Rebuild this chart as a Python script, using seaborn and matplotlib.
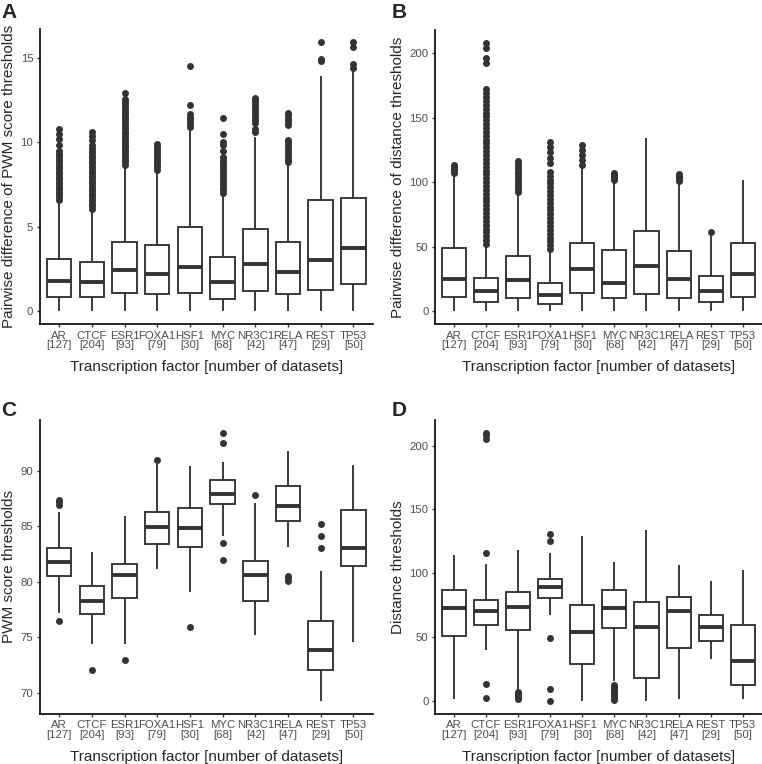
import numpy as np
import pandas as pd
import seaborn as sns
import matplotlib.pyplot as plt

sns.set_theme(style="white")
plt.rcParams['font.family'] = ['Liberation Sans', 'DejaVu Sans']

tfs = ["AR", "CTCF", "ESR1", "FOXA1", "HSF1", "MYC", "NR3C1", "RELA", "REST", "TP53"]
n_datasets = [127, 204, 93, 79, 30, 68, 42, 47, 29, 50]

# box summaries: [whisker low, q1, median, q3, whisker high]
pwm_diff_stats = [
    [0, 0.85, 1.8, 3.1, 6.5],
    [0, 0.8, 1.7, 2.9, 6.0],
    [0, 1.08, 2.4, 4.1, 8.6],
    [0, 1.0, 2.2, 3.9, 8.3],
    [0, 1.08, 2.6, 5.0, 10.8],
    [0, 0.7, 1.7, 3.2, 6.9],
    [0, 1.18, 2.8, 4.85, 10.3],
    [0, 1.0, 2.3, 4.1, 8.7],
    [0, 1.25, 3.0, 6.6, 13.9],
    [0, 1.6, 3.7, 6.7, 14.2],
]
pwm_diff_outliers = [
    [6.6, 6.75, 6.9, 7.05, 7.2, 7.35, 7.5, 7.65, 7.8, 7.95, 8.1, 8.25, 8.4, 8.55, 8.7, 8.85, 9.0, 9.15,
     9.3, 9.45, 9.8, 10.2, 10.5, 10.8],
    [6.05, 6.2, 6.35, 6.5, 6.65, 6.8, 6.95, 7.1, 7.25, 7.4, 7.55, 7.7, 7.85, 8.0, 8.15, 8.3, 8.45, 8.6,
     8.75, 8.9, 9.05, 9.2, 9.35, 9.5, 9.65, 9.8, 10.1, 10.35, 10.6],
    [8.65, 8.8, 8.95, 9.1, 9.25, 9.4, 9.55, 9.7, 9.85, 10.0, 10.15, 10.3, 10.45, 10.6, 10.75, 10.9, 11.05,
     11.2, 11.35, 11.5, 11.65, 11.8, 11.95, 12.1, 12.25, 12.4, 12.55, 12.9],
    [8.35, 8.5, 8.65, 8.8, 8.95, 9.1, 9.25, 9.4, 9.55, 9.7, 9.9],
    [10.9, 11.05, 11.2, 11.35, 11.5, 11.65, 12.2, 14.5],
    [7.0, 7.15, 7.3, 7.45, 7.6, 7.75, 7.9, 8.05, 8.2, 8.35, 8.5, 8.65, 8.8, 8.95, 9.1, 9.5, 9.8, 10.0,
     10.5, 11.4],
    [10.6, 10.8, 11.1, 11.3, 11.45, 11.6, 11.75, 11.9, 12.05, 12.2, 12.35, 12.5, 12.6],
    [8.8, 8.95, 9.1, 9.25, 9.4, 9.55, 9.7, 9.85, 10.0, 10.15, 11.0, 11.15, 11.3, 11.45, 11.6, 11.7],
    [14.8, 14.9, 15.9],
    [14.4, 14.6, 15.6, 15.9],
]

dist_diff_stats = [
    [0, 11, 25, 49, 106],
    [0, 7, 15.5, 25.5, 51],
    [0, 10, 24, 43, 91],
    [0, 5.2, 12.2, 22, 47],
    [0, 13.7, 32.3, 53, 112],
    [0, 9.8, 22, 47, 101],
    [0, 12.9, 35.2, 62.4, 134],
    [0, 9.8, 25.1, 46.3, 100],
    [0, 7, 15.3, 27.2, 59],
    [0, 11.1, 28.5, 53, 101.5],
]
dist_diff_outliers = [
    [107, 108, 109, 110, 111, 112, 113],
    [52, 55, 58, 61, 64, 67, 70, 73, 76, 79, 82, 85, 88, 91, 94, 97, 100, 103, 106, 109, 112, 115, 118,
     121, 124, 127, 130, 133, 136, 139, 142, 145, 148, 151, 154, 157, 160, 163, 166, 169, 172,
     192.5, 196, 204, 208],
    [92, 94, 96, 98, 100, 102, 104, 106, 108, 110, 112, 114, 116],
    [48, 51, 54, 57, 60, 63, 66, 69, 72, 75, 78, 81, 84, 87, 90, 93, 96, 99, 102, 105, 108,
     114.5, 119, 123.5, 127, 131],
    [113, 117, 121, 125, 129],
    [102, 103, 104, 105, 106, 107],
    [],
    [101, 102, 103, 104, 105, 106],
    [61.5],
    [],
]

pwm_stats = [
    [77.2, 80.5, 81.75, 83.0, 86.3],
    [74.4, 77.1, 78.25, 79.6, 82.7],
    [74.4, 78.5, 80.6, 81.6, 85.9],
    [81.15, 83.4, 84.9, 86.3, 90.6],
    [79.1, 83.1, 84.8, 86.6, 90.4],
    [84.1, 87.0, 87.9, 89.15, 90.8],
    [75.2, 78.3, 80.6, 81.9, 87.1],
    [83.1, 85.5, 86.85, 88.6, 91.8],
    [69.3, 72.1, 73.85, 76.45, 81.0],
    [74.6, 81.4, 83.0, 86.5, 90.5],
]
pwm_outliers = [
    [76.5, 86.9, 87.2, 87.4],
    [72.1],
    [73.0],
    [91.0],
    [75.9],
    [82.0, 83.45, 92.5, 93.4],
    [87.8],
    [80.05, 80.3, 80.55],
    [83.0, 84.1, 85.2],
    [],
]

dist_stats = [
    [1, 50.7, 72.7, 86.5, 114],
    [40, 59, 70, 79.2, 107],
    [8, 55.2, 73.2, 85.2, 118],
    [67, 80.8, 89.4, 95.2, 116],
    [0, 28.8, 53.6, 75, 129],
    [15, 57, 72.7, 86.5, 108.5],
    [0, 18, 58, 77.1, 134],
    [1, 41.6, 70.3, 81.6, 106.4],
    [32.4, 47, 58, 67, 94],
    [1, 12, 31.4, 59.6, 102.2],
]
dist_outliers = [
    [],
    [2, 13, 116, 205.5, 208, 210],
    [1.5, 2.5, 3.5, 4.5, 5.5, 6.5],
    [0, 9, 49, 125, 131],
    [],
    [0.5, 2, 3.5, 5, 6.5, 8, 9.5, 11, 12],
    [],
    [],
    [],
    [],
]

panels = [
    ("A", pwm_diff_stats, pwm_diff_outliers, "Pairwise difference of PWM score thresholds", [0, 5, 10, 15]),
    ("B", dist_diff_stats, dist_diff_outliers, "Pairwise difference of distance thresholds", [0, 50, 100, 150, 200]),
    ("C", pwm_stats, pwm_outliers, "PWM score thresholds", [70, 75, 80, 85, 90]),
    ("D", dist_stats, dist_outliers, "Distance thresholds", [0, 50, 100, 150, 200]),
]

# axes rectangles in pixels: left, top, right, bottom
W, H = 762, 764
rects = [(39.5, 29, 373, 324.4), (434.7, 29.5, 762, 324.4),
         (39.5, 419.5, 373, 714), (434.7, 419.5, 762, 714)]
letter_pos = [(1, 13), (392, 13), (1, 410), (392, 410)]

dark = "#333333"


def long_frame(values):
    rows = [(tf, v) for tf, vals in zip(tfs, values) for v in vals]
    return pd.DataFrame(rows, columns=["tf", "value"])


def plot_panel(ax, stats, outliers, ylabel, yticks):
    # five numbers per box -> whiskers at min/max, quartiles exact
    sns.boxplot(long_frame(stats), x="tf", y="value", order=tfs, ax=ax,
                whis=(0, 100), showfliers=False, showcaps=False, width=0.75,
                color="white", linecolor=dark, linewidth=1.35,
                medianprops={"linewidth": 2.8, "color": dark})
    out = long_frame(outliers)
    sns.stripplot(out, x="tf", y="value", order=tfs, ax=ax, jitter=False,
                  color=dark, size=5.0, linewidth=0)

    allv = [v for s in stats for v in s] + [v for o in outliers for v in o]
    lo, hi = min(allv), max(allv)
    pad = (hi - lo) * 0.05
    ax.set_ylim(lo - pad, hi + pad)
    ax.set_xlim(-0.6, len(tfs) - 0.4)
    ax.set_yticks(yticks)
    ax.set_xticks(range(len(tfs)))
    ax.set_xticklabels([f"{tf}\n[{n}]" for tf, n in zip(tfs, n_datasets)], linespacing=0.95)

    ax.set_xlabel("Transcription factor [number of datasets]", fontsize=11, labelpad=7)
    ax.set_ylabel(ylabel, fontsize=11, labelpad=3)
    ax.tick_params(axis="both", labelsize=8.2, labelcolor="#4D4D4D", color=dark,
                   length=2.5, width=1.0, pad=2, bottom=True, left=True)
    for side in ["top", "right"]:
        ax.spines[side].set_visible(False)
    for side in ["left", "bottom"]:
        ax.spines[side].set_color("black")
        ax.spines[side].set_linewidth(1.2)


fig = plt.figure(figsize=(W / 100, H / 100), dpi=100)
for (letter, stats, outliers, ylabel, yticks), (l, t, r, b), (lx, ly) in zip(panels, rects, letter_pos):
    ax = fig.add_axes([l / W, 1 - b / H, (r - l) / W, (b - t) / H])
    plot_panel(ax, stats, outliers, ylabel, yticks)
    fig.text(lx / W, 1 - ly / H, letter, fontsize=15, fontweight="bold", va="center", ha="left")

fig.savefig("out.png", dpi=100, facecolor="white")
